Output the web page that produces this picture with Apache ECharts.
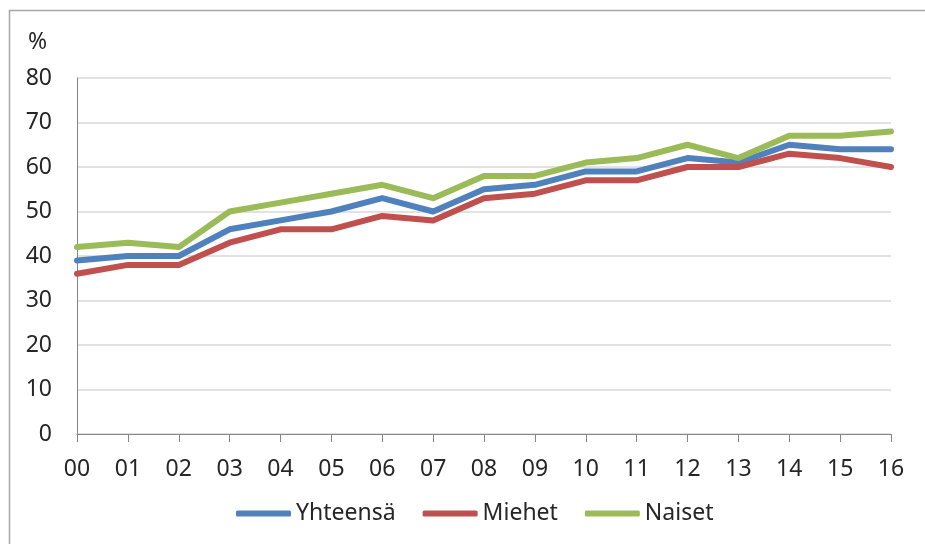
<!DOCTYPE html>
<html>
<head>
<meta charset="utf-8">
<script src="https://cdn.jsdelivr.net/npm/echarts@6/dist/echarts.min.js"></script>
<style>
  html, body { margin: 0; padding: 0; background: #fff; }
  #chart-container { width: 925px; height: 544px; }
</style>
</head>
<body>
<div id="chart-container"></div>
<script>
var years = ['00', '01', '02', '03', '04', '05', '06', '07', '08', '09', '10', '11', '12', '13', '14', '15', '16'];
var yhteensa = [39, 40, 40, 46, 48, 50, 53, 50, 55, 56, 59, 59, 62, 61, 65, 64, 64];
var miehet = [36, 38, 38, 43, 46, 46, 49, 48, 53, 54, 57, 57, 60, 60, 63, 62, 60];
var naiset = [42, 43, 42, 50, 52, 54, 56, 53, 58, 58, 61, 62, 65, 62, 67, 67, 68];
var seriesNames = ['Yhteensä', 'Miehet', 'Naiset'];
var colors = ['#4F81BD', '#C0504D', '#9BBB59'];

var dom = document.getElementById('chart-container');
var myChart = echarts.init(dom, null, { renderer: 'canvas' });

var font = 'Noto Sans';
var textColor = '#262626';
var fs = 23;

function line(name, data, color) {
    return {
        name: name,
        type: 'line',
        data: data,
        symbol: 'none',
        smooth: false,
        lineStyle: { width: 6, color: color, cap: 'round', join: 'round' },
        itemStyle: { color: color },
        emphasis: { disabled: true }
    };
}

var option = {
    animation: false,
    textStyle: { fontFamily: font },
    graphic: [
        {
            type: 'rect',
            shape: { x: 9.5, y: 10.5, width: 930, height: 540 },
            style: { fill: 'none', stroke: '#a6a6a6', lineWidth: 1.5 },
            silent: true
        },
        {
            type: 'text',
            left: 28,
            top: 31,
            style: { text: '%', fontSize: fs, fontFamily: font, fill: textColor }
        }
    ],
    legend: {
        data: seriesNames,
        bottom: 14,
        left: 231,
        icon: 'roundRect',
        itemWidth: 55,
        itemHeight: 6,
        itemGap: 27,
        textStyle: { fontSize: fs, fontFamily: font, color: textColor }
    },
    grid: {
        left: 77,
        right: 34,
        top: 78,
        bottom: 110,
        containLabel: false
    },
    xAxis: {
        type: 'category',
        data: years,
        boundaryGap: false,
        axisLine: { lineStyle: { color: '#868686', width: 1 } },
        axisTick: { show: true, alignWithLabel: true, length: 8, lineStyle: { color: '#868686' } },
        axisLabel: { fontSize: fs, fontFamily: font, color: textColor, margin: 24 },
        splitLine: { show: false }
    },
    yAxis: {
        type: 'value',
        min: 0,
        max: 80,
        interval: 10,
        axisLine: { show: true, lineStyle: { color: '#868686', width: 1 } },
        axisTick: { show: false },
        axisLabel: { fontSize: fs, fontFamily: font, color: textColor, margin: 25 },
        splitLine: { lineStyle: { color: '#d9d9d9', width: 1.5 } }
    },
    series: [
        line(seriesNames[0], yhteensa, colors[0]),
        line(seriesNames[1], miehet, colors[1]),
        line(seriesNames[2], naiset, colors[2])
    ]
};

myChart.setOption(option);
window.addEventListener('resize', myChart.resize);
</script>
</body>
</html>
